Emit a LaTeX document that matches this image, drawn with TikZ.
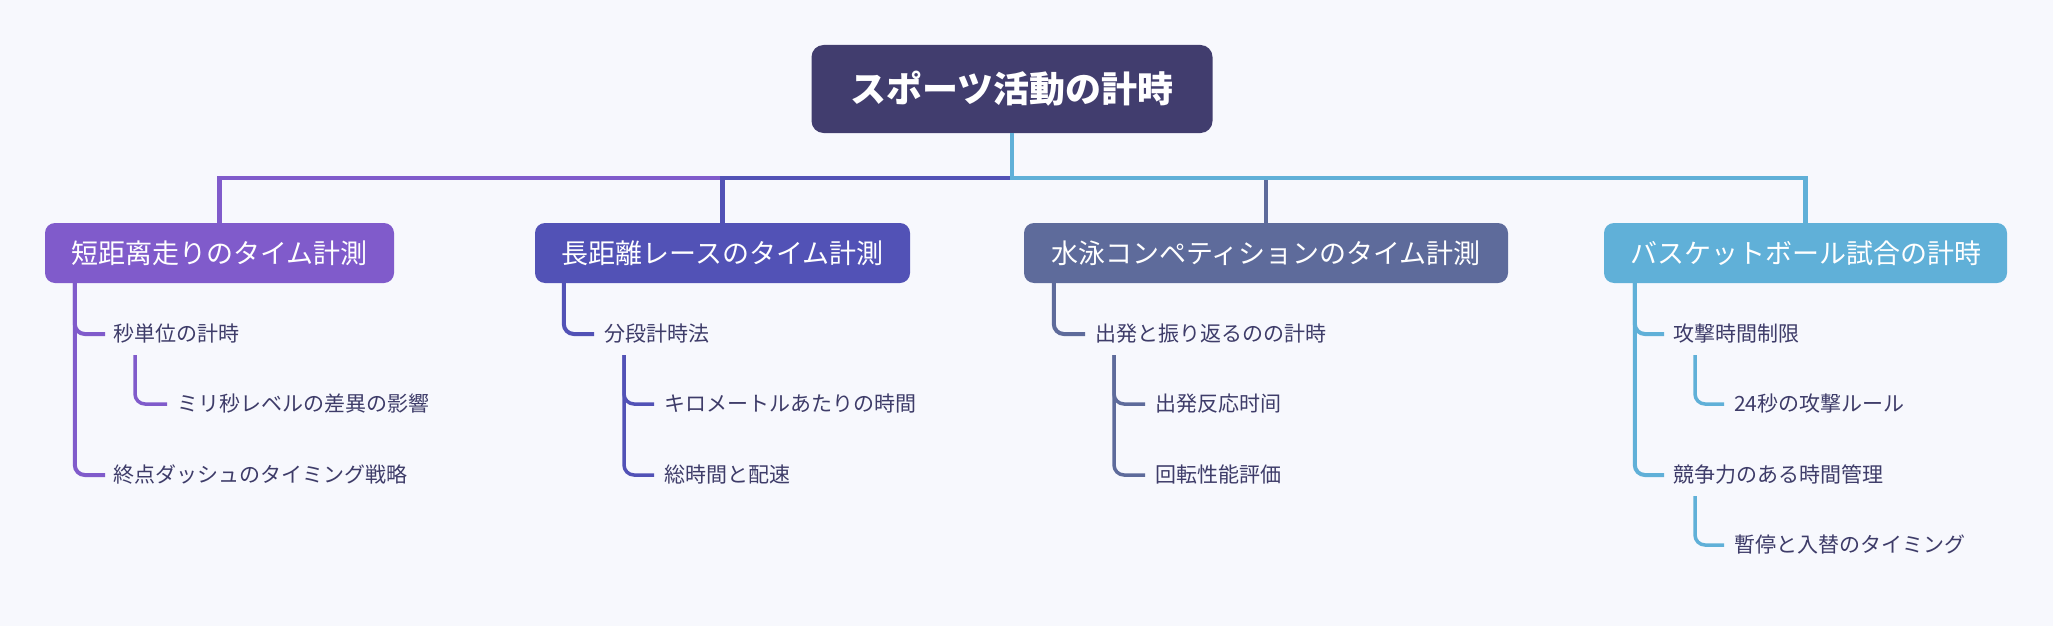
\documentclass[tikz,border=0pt]{standalone}
\usepackage{fontspec}
\setmainfont{Noto Sans CJK JP}
\usepackage{tikz}

\definecolor{bgcol}{HTML}{F7F8FD}
\definecolor{rootcol}{HTML}{413D6E}
\definecolor{leafcol}{HTML}{3E3C69}
\definecolor{sprintcol}{HTML}{805BCB}
\definecolor{longcol}{HTML}{5252B6}
\definecolor{swimcol}{HTML}{5E6B9B}
\definecolor{basketcol}{HTML}{60B0D8}

\begin{document}
\begin{tikzpicture}[x=1pt,y=-1pt,
  topic/.style={rounded corners=10pt,text=white,inner sep=0pt,minimum height=60pt,font=\fontsize{27}{30}\selectfont},
  leaf/.style={anchor=west,inner sep=0pt,text=leafcol,font=\fontsize{21}{24}\selectfont},
  bus/.style={line width=4.5pt},
  twig/.style={line width=4pt,rounded corners=10pt},
  subtwig/.style={line width=3.5pt,rounded corners=10pt}]
  % background and size
  \fill[bgcol] (0,0) rectangle (2053,626);
  % central topic
  \node[rounded corners=12pt,fill=rootcol,text=white,inner sep=0pt,minimum width=401pt,minimum height=88pt,font=\fontsize{36}{40}\selectfont\bfseries] (root) at (1012,89) {スポーツ活動の計時};
  % main topics
  \node[topic,fill=sprintcol,minimum width=349pt] (sprint) at (219.5,253) {短距离走りのタイム計測};
  \node[topic,fill=longcol,minimum width=375pt] (long) at (722.5,253) {長距離レースのタイム計測};
  \node[topic,fill=swimcol,minimum width=484pt] (swim) at (1266,253) {水泳コンペティションのタイム計測};
  \node[topic,fill=basketcol,minimum width=403pt] (basket) at (1805.5,253) {バスケットボール試合の計時};
  % subtopics
  \node[leaf] (sprintA) at (113,334) {秒単位の計時};
  \node[leaf] (sprintAa) at (177,404) {ミリ秒レベルの差異の影響};
  \node[leaf] (sprintB) at (113,475) {終点ダッシュのタイミング戦略};
  \node[leaf] (longA) at (604,334) {分段計時法};
  \node[leaf] (longAa) at (664,404) {キロメートルあたりの時間};
  \node[leaf] (longAb) at (664,475) {総時間と配速};
  \node[leaf] (swimA) at (1095,334) {出発と振り返るのの計時};
  \node[leaf] (swimAa) at (1155,404) {出発反応时间};
  \node[leaf] (swimAb) at (1155,475) {回転性能評価};
  \node[leaf] (basketA) at (1673,334) {攻撃時間制限};
  \node[leaf] (basketAa) at (1734,404) {24秒の攻撃ルール};
  \node[leaf] (basketB) at (1673,475) {競争力のある時間管理};
  \node[leaf] (basketBa) at (1734,545) {暫停と入替のタイミング};
  % root to main topics
  \draw[bus,sprintcol] (root.south) -- ++(0,-45pt) -| (sprint.north);
  \draw[bus,longcol] (root.south) -- ++(0,-45pt) -| (long.north);
  \draw[bus,swimcol] (root.south) -- ++(0,-45pt) -| (swim.north);
  \draw[bus,basketcol] (root.south) -- ++(0,-45pt) -| (basket.north);
  % main topics to subtopics
  \draw[twig,sprintcol] ([xshift=30pt]sprint.south west) |- ([xshift=-8pt]sprintA.west);
  \draw[twig,sprintcol] ([xshift=30pt]sprint.south west) |- ([xshift=-8pt]sprintB.west);
  \draw[subtwig,sprintcol] ([shift={(22pt,-21pt)}]sprintA.west) |- ([xshift=-10pt]sprintAa.west);
  \draw[twig,longcol] ([xshift=29pt]long.south west) |- ([xshift=-10pt]longA.west);
  \draw[subtwig,longcol] ([shift={(20pt,-21pt)}]longA.west) |- ([xshift=-10pt]longAa.west);
  \draw[subtwig,longcol] ([shift={(20pt,-21pt)}]longA.west) |- ([xshift=-10pt]longAb.west);
  \draw[twig,swimcol] ([xshift=30pt]swim.south west) |- ([xshift=-10pt]swimA.west);
  \draw[subtwig,swimcol] ([shift={(19pt,-21pt)}]swimA.west) |- ([xshift=-10pt]swimAa.west);
  \draw[subtwig,swimcol] ([shift={(19pt,-21pt)}]swimA.west) |- ([xshift=-10pt]swimAb.west);
  \draw[twig,basketcol] ([xshift=31pt]basket.south west) |- ([xshift=-9pt]basketA.west);
  \draw[twig,basketcol] ([xshift=31pt]basket.south west) |- ([xshift=-9pt]basketB.west);
  \draw[subtwig,basketcol] ([shift={(22pt,-21pt)}]basketA.west) |- ([xshift=-10pt]basketAa.west);
  \draw[subtwig,basketcol] ([shift={(22pt,-21pt)}]basketB.west) |- ([xshift=-10pt]basketBa.west);
\end{tikzpicture}
\end{document}
